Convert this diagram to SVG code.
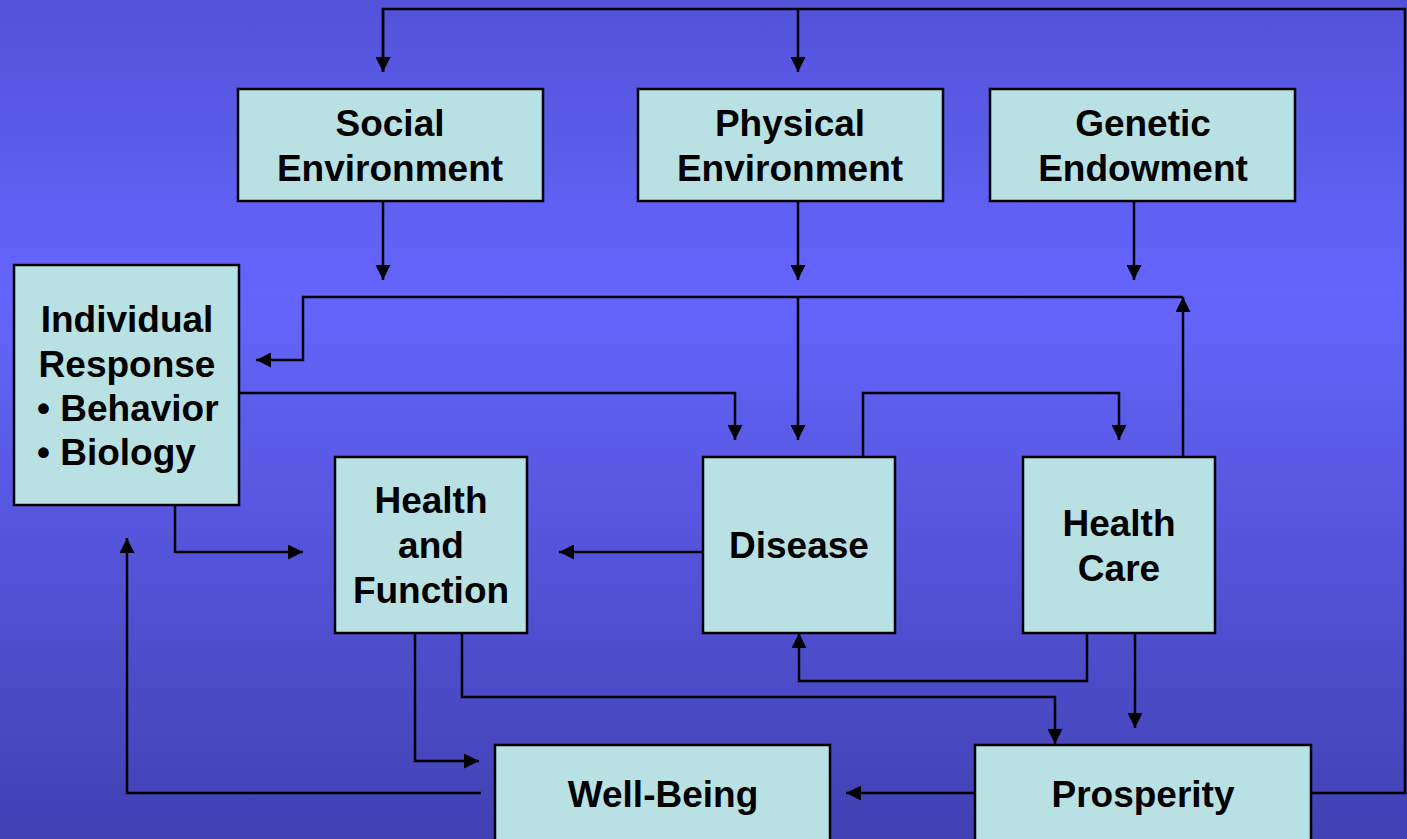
<svg xmlns="http://www.w3.org/2000/svg" width="1407" height="839" viewBox="0 0 1407 839">
<defs>
<linearGradient id="bg" x1="0" y1="0" x2="0" y2="1">
<stop offset="0" stop-color="#5252d9"/>
<stop offset="0.35" stop-color="#6565fd"/>
<stop offset="1" stop-color="#4141b3"/>
</linearGradient>
<marker id="ah" viewBox="0 0 15 15" markerWidth="15" markerHeight="15" refX="15" refY="7.5" orient="auto" markerUnits="userSpaceOnUse">
<path d="M0,0 L15,7.5 L0,15 z" fill="#000"/>
</marker>
</defs>
<style>
.box{fill:#b9e0e3;stroke:#000;stroke-width:2.5}
.t{font-family:"Liberation Sans",Arial,sans-serif;font-weight:bold;font-size:37px;fill:#000;text-anchor:middle}
.tl{text-anchor:start}
.c{fill:none;stroke:#000;stroke-width:2.5}
.a{marker-end:url(#ah)}
</style>
<rect x="0" y="0" width="1407" height="839" fill="url(#bg)"/>
<g id="connectors">
<path class="c" d="M1311,793 H1405 V9 H383 V72"/>
<path class="c a" d="M383,9 V72"/>
<path class="c a" d="M798,9 V72"/>
<path class="c a" d="M383,201 V280"/>
<path class="c a" d="M798,201 V280"/>
<path class="c a" d="M1134,201 V280"/>
<path class="c a" d="M1183,457 V297"/>
<path class="c a" d="M1183,297 H303 V360 H256"/>
<path class="c a" d="M798,297 V440"/>
<path class="c a" d="M239,393 H735 V440"/>
<path class="c a" d="M863,457 V393 H1119 V440"/>
<path class="c a" d="M175,505 V552 H303"/>
<path class="c a" d="M703,552 H559"/>
<path class="c a" d="M415,633 V761 H479"/>
<path class="c a" d="M462,633 V697 H1055 V744"/>
<path class="c a" d="M1087,633 V681 H799 V633"/>
<path class="c a" d="M1135,633 V728"/>
<path class="c a" d="M975,793 H846"/>
<path class="c a" d="M481,793 H127 V538"/>
</g>
<g id="social">
<rect class="box" x="238" y="89" width="305" height="112"/>
<text class="t" x="390" y="136">Social</text>
<text class="t" x="390" y="181">Environment</text>
</g>
<g id="physical">
<rect class="box" x="638" y="89" width="305" height="112"/>
<text class="t" x="790" y="136">Physical</text>
<text class="t" x="790" y="181">Environment</text>
</g>
<g id="genetic">
<rect class="box" x="990" y="89" width="305" height="112"/>
<text class="t" x="1143" y="136">Genetic</text>
<text class="t" x="1143" y="181">Endowment</text>
</g>
<g id="individual">
<rect class="box" x="14" y="265" width="225" height="240"/>
<text class="t" x="127" y="332">Individual</text>
<text class="t" x="127" y="377">Response</text>
<text class="t tl" x="37" y="421">• Behavior</text>
<text class="t tl" x="37" y="465">• Biology</text>
</g>
<g id="healthfunction">
<rect class="box" x="335" y="457" width="192" height="176"/>
<text class="t" x="431" y="513">Health</text>
<text class="t" x="431" y="558">and</text>
<text class="t" x="431" y="603">Function</text>
</g>
<g id="disease">
<rect class="box" x="703" y="457" width="192" height="176"/>
<text class="t" x="799" y="558">Disease</text>
</g>
<g id="healthcare">
<rect class="box" x="1023" y="457" width="192" height="176"/>
<text class="t" x="1119" y="536">Health</text>
<text class="t" x="1119" y="581">Care</text>
</g>
<g id="wellbeing">
<rect class="box" x="495" y="745" width="335" height="110"/>
<text class="t" x="663" y="807">Well-Being</text>
</g>
<g id="prosperity">
<rect class="box" x="975" y="745" width="336" height="110"/>
<text class="t" x="1143" y="807">Prosperity</text>
</g>
</svg>
